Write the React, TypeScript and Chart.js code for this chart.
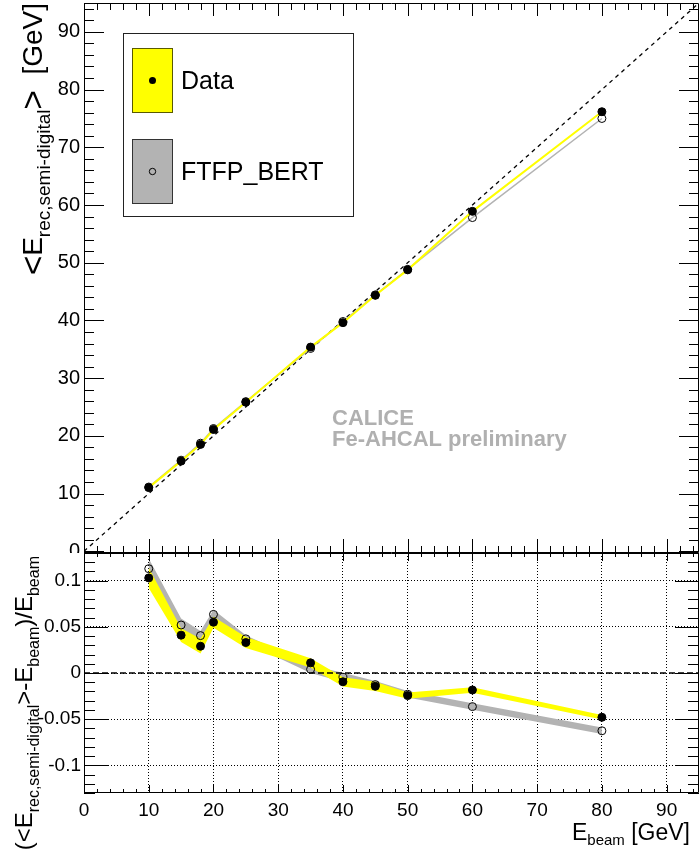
import React, { useEffect, useRef } from 'react';
import { Chart, registerables } from 'chart.js';

Chart.register(...registerables);

// ---------- data ----------
const beamEnergies = [10, 15, 18, 20, 25, 35, 40, 45, 50, 60, 80];
const dataRecEnergy = [11.03, 15.62, 18.52, 21.1, 25.83, 35.38, 39.61, 44.35, 48.76, 58.9, 76.16];
const mcRecEnergy = [11.13, 15.78, 18.73, 21.27, 25.93, 35.14, 39.81, 44.43, 48.85, 57.82, 74.99];
const dataDeviation = [0.103, 0.041, 0.029, 0.055, 0.033, 0.011, -0.0095, -0.0144, -0.0245, -0.0184, -0.048];
const mcDeviation = [0.113, 0.052, 0.0405, 0.0635, 0.037, 0.004, -0.0047, -0.0126, -0.023, -0.0364, -0.0626];
const dataBandHalf = [0.011, 0.0075, 0.008, 0.006, 0.006, 0.005, 0.005, 0.005, 0.0035, 0.003, 0.0025];
const mcBandHalf = [0.011, 0.007, 0.005, 0.005, 0.004, 0.004, 0.005, 0.004, 0.0035, 0.0035, 0.0035];

const xTickValues = [0, 10, 20, 30, 40, 50, 60, 70, 80, 90];
const xTickLabels = ['0', '10', '20', '30', '40', '50', '60', '70', '80', '90'];
const energyTickValues = [0, 10, 20, 30, 40, 50, 60, 70, 80, 90];
const energyTickLabels = ['0', '10', '20', '30', '40', '50', '60', '70', '80', '90'];
const deviationTickValues = [-0.1, -0.05, 0, 0.05, 0.1];
const deviationTickLabels = ['-0.1', '-0.05', '0', '0.05', '0.1'];

const identityLine = [0, 95];
const zeroLineX = [0, 95];
const legendLabels = ['Data', 'FTFP_BERT'];
const watermarkLines = ['CALICE', 'Fe-AHCAL preliminary'];

const FONT = '"Liberation Sans", Arial, Helvetica, sans-serif';
const YELLOW = '#ffff00';
const GREY = '#b3b3b3';

type Part = { t: string; size: number; dy: number };

function drawRich(ctx: CanvasRenderingContext2D, parts: Part[], x: number, y: number, rotate: boolean) {
  ctx.save();
  let total = 0;
  const widths = parts.map((p) => {
    ctx.font = `${p.size}px ${FONT}`;
    const w = ctx.measureText(p.t).width;
    total += w;
    return w;
  });
  ctx.translate(x, y);
  if (rotate) ctx.rotate(-Math.PI / 2);
  ctx.fillStyle = '#000';
  ctx.textBaseline = 'alphabetic';
  ctx.textAlign = 'left';
  let u = -total;
  parts.forEach((p, i) => {
    ctx.font = `${p.size}px ${FONT}`;
    ctx.fillText(p.t, u, p.dy);
    u += widths[i];
  });
  ctx.restore();
}

function stepValues(min: number, max: number, step: number) {
  const out: number[] = [];
  for (let k = Math.ceil(min / step - 1e-9); k * step <= max + 1e-9; k++) out.push(k * step);
  return out;
}

type FrameOpts = {
  xMinor: number; xMajor: number; yMinor: number; yMajor: number;
  xBotMaj: number; xBotMin: number; xTopMaj: number; xTopMin: number;
  yMaj: number; yMin: number;
  extra?: (chart: any, ctx: CanvasRenderingContext2D) => void;
};

function framePlugin(o: FrameOpts) {
  return {
    id: 'rootFrame',
    afterDraw(chart: any) {
      const ctx: CanvasRenderingContext2D = chart.ctx;
      const a = chart.chartArea;
      const xs = chart.scales.x;
      const ys = chart.scales.y;
      ctx.save();
      ctx.strokeStyle = '#000';
      ctx.lineWidth = 1;
      ctx.setLineDash([]);
      ctx.beginPath();
      ctx.rect(Math.round(a.left) + 0.5, Math.round(a.top) + 0.5, Math.round(a.right - a.left) - 1, Math.round(a.bottom - a.top) - 1);
      ctx.stroke();
      ctx.beginPath();
      for (const v of stepValues(xs.min, xs.max, o.xMinor)) {
        const major = Math.abs(v / o.xMajor - Math.round(v / o.xMajor)) < 1e-6;
        const px = Math.round(xs.getPixelForValue(v)) + 0.5;
        const lb = major ? o.xBotMaj : o.xBotMin;
        const lt = major ? o.xTopMaj : o.xTopMin;
        ctx.moveTo(px, a.bottom); ctx.lineTo(px, a.bottom - lb);
        ctx.moveTo(px, a.top); ctx.lineTo(px, a.top + lt);
      }
      for (const v of stepValues(ys.min, ys.max, o.yMinor)) {
        const major = Math.abs(v / o.yMajor - Math.round(v / o.yMajor)) < 1e-6;
        const py = Math.round(ys.getPixelForValue(v)) + 0.5;
        const l = major ? o.yMaj : o.yMin;
        ctx.moveTo(a.left, py); ctx.lineTo(a.left + l, py);
        ctx.moveTo(a.right, py); ctx.lineTo(a.right - l, py);
      }
      ctx.stroke();
      if (o.extra) o.extra(chart, ctx);
      ctx.restore();
    },
  };
}

function tickSetter(values: number[]) {
  return (s: any) => {
    s.ticks = values.map((v) => ({ value: v }));
  };
}

function topConfig(): any {
  const extra = (chart: any, ctx: CanvasRenderingContext2D) => {
    // legend
    ctx.fillStyle = '#fff';
    ctx.fillRect(123, 33, 231, 184);
    ctx.strokeStyle = '#222';
    ctx.lineWidth = 1;
    ctx.strokeRect(123.5, 33.5, 230, 183);
    ctx.fillStyle = YELLOW;
    ctx.fillRect(132, 48, 40, 64);
    ctx.strokeStyle = '#5a5a00';
    ctx.strokeRect(132.5, 48.5, 40, 64);
    ctx.fillStyle = GREY;
    ctx.fillRect(132, 139, 40, 64);
    ctx.strokeStyle = '#333';
    ctx.strokeRect(132.5, 139.5, 40, 64);
    ctx.fillStyle = '#000';
    ctx.beginPath();
    ctx.arc(152.5, 80.5, 3.5, 0, Math.PI * 2);
    ctx.fill();
    ctx.strokeStyle = '#000';
    ctx.beginPath();
    ctx.arc(152.5, 171.5, 3.2, 0, Math.PI * 2);
    ctx.stroke();
    ctx.font = `25px ${FONT}`;
    ctx.textAlign = 'left';
    ctx.textBaseline = 'alphabetic';
    ctx.fillText(legendLabels[0], 181, 89);
    ctx.fillText(legendLabels[1], 181, 180);
    // watermark
    ctx.fillStyle = '#b0b0b0';
    ctx.font = `bold 22px ${FONT}`;
    ctx.fillText(watermarkLines[0], 332, 425);
    ctx.fillText(watermarkLines[1], 332, 446);
    // y title
    drawRich(ctx, [
      { t: '<', size: 33, dy: 2 },
      { t: 'E', size: 28, dy: 0 },
      { t: 'rec,semi-digital', size: 19, dy: 8 },
      { t: '>', size: 33, dy: 2 },
      { t: '  [GeV]', size: 28, dy: 0 },
    ], 42, 3, true);
  };

  return {
    type: 'line',
    data: {
      datasets: [
        {
          data: beamEnergies.map((x, i) => ({ x, y: dataRecEnergy[i] })),
          borderColor: YELLOW, borderWidth: 2,
          pointBackgroundColor: '#000', pointBorderColor: '#000', pointBorderWidth: 1, pointRadius: 4,
          order: 0,
        },
        {
          data: beamEnergies.map((x, i) => ({ x, y: mcRecEnergy[i] })),
          borderColor: GREY, borderWidth: 1.5,
          pointBackgroundColor: 'rgba(255,255,255,0)', pointBorderColor: '#000', pointBorderWidth: 1, pointRadius: 4,
          order: 1,
        },
        {
          data: identityLine.map((v) => ({ x: v, y: v })),
          borderColor: '#000', borderWidth: 1.3, borderDash: [4, 4], pointRadius: 0,
          order: 2,
        },
      ],
    },
    options: {
      responsive: false, animation: false, devicePixelRatio: 1, events: [],
      layout: { autoPadding: false, padding: { top: 3, left: 0, right: 0, bottom: 0 } },
      plugins: { legend: { display: false }, tooltip: { enabled: false }, title: { display: false } },
      scales: {
        x: { type: 'linear', min: 0, max: 95, display: false },
        y: {
          type: 'linear', min: -0.3, max: 95,
          afterBuildTicks: tickSetter(energyTickValues),
          afterFit: (s: any) => { s.width = 84; s.paddingTop = 0; s.paddingBottom = 0; },
          ticks: {
            callback: (_v: any, i: number) => energyTickLabels[i],
            font: { family: FONT, size: 20 }, color: '#000', padding: 4, autoSkip: false,
          },
          grid: { display: false, drawTicks: false },
          border: { display: false },
        },
      },
    },
    plugins: [framePlugin({
      xMinor: 2, xMajor: 10, yMinor: 2, yMajor: 10,
      xBotMaj: 14, xBotMin: 7, xTopMaj: 13, xTopMin: 7, yMaj: 20, yMin: 10,
      extra,
    })],
  };
}

function bottomConfig(): any {
  const extra = (chart: any, ctx: CanvasRenderingContext2D) => {
    drawRich(ctx, [
      { t: '(<E', size: 24, dy: 0 },
      { t: 'rec,semi-digital', size: 16, dy: 7 },
      { t: '>-E', size: 24, dy: 0 },
      { t: 'beam', size: 16, dy: 7 },
      { t: ')/E', size: 24, dy: 0 },
      { t: 'beam', size: 16, dy: 7 },
    ], 32, 3, true);
    drawRich(ctx, [
      { t: 'E', size: 23, dy: 0 },
      { t: 'beam', size: 15, dy: 5 },
      { t: ' [GeV]', size: 23, dy: 0 },
    ], 690, 287, false);
  };
  const bandDataset = (vals: number[], half: number[], sign: number, color: string, fill: any, order: number) => ({
    data: beamEnergies.map((x, i) => ({ x, y: vals[i] + sign * half[i] })),
    borderWidth: 0, borderColor: 'rgba(0,0,0,0)', backgroundColor: color,
    pointRadius: 0, fill, order,
  });
  const gridOpts = { display: true, drawTicks: false, color: '#000', lineWidth: 1 };
  const borderOpts = { display: false, dash: [1, 2] };
  return {
    type: 'line',
    data: {
      datasets: [
        {
          data: beamEnergies.map((x, i) => ({ x, y: dataDeviation[i] })),
          showLine: false,
          pointBackgroundColor: '#000', pointBorderColor: '#000', pointBorderWidth: 1, pointRadius: 4,
          order: 0,
        },
        {
          data: beamEnergies.map((x, i) => ({ x, y: mcDeviation[i] })),
          showLine: false,
          pointBackgroundColor: 'rgba(255,255,255,0)', pointBorderColor: '#000', pointBorderWidth: 1, pointRadius: 4,
          order: 1,
        },
        {
          data: zeroLineX.map((x) => ({ x, y: 0 })),
          borderColor: '#000', borderWidth: 1.3, borderDash: [6, 3], pointRadius: 0,
          order: 2,
        },
        bandDataset(dataDeviation, dataBandHalf, 1, YELLOW, '+1', 3),
        bandDataset(dataDeviation, dataBandHalf, -1, YELLOW, false, 4),
        bandDataset(mcDeviation, mcBandHalf, 1, GREY, '+1', 5),
        bandDataset(mcDeviation, mcBandHalf, -1, GREY, false, 6),
      ],
    },
    options: {
      responsive: false, animation: false, devicePixelRatio: 1, events: [],
      layout: { autoPadding: false, padding: 0 },
      plugins: { legend: { display: false }, tooltip: { enabled: false }, title: { display: false } },
      scales: {
        x: {
          type: 'linear', min: 0, max: 95,
          afterBuildTicks: tickSetter(xTickValues),
          afterFit: (s: any) => { s.height = 57; s.paddingLeft = 0; s.paddingRight = 0; },
          ticks: {
            callback: (_v: any, i: number) => xTickLabels[i],
            font: { family: FONT, size: 19 }, color: '#000', padding: 6, autoSkip: false, maxRotation: 0,
          },
          grid: gridOpts,
          border: borderOpts,
        },
        y: {
          type: 'linear', min: -0.13, max: 0.13,
          afterBuildTicks: tickSetter(deviationTickValues),
          afterFit: (s: any) => { s.width = 84; s.paddingTop = 0; s.paddingBottom = 0; },
          ticks: {
            callback: (_v: any, i: number) => deviationTickLabels[i],
            font: { family: FONT, size: 19 }, color: '#000', padding: 3, autoSkip: false,
          },
          grid: gridOpts,
          border: borderOpts,
        },
      },
    },
    plugins: [framePlugin({
      xMinor: 2, xMajor: 10, yMinor: 0.01, yMajor: 0.05,
      xBotMaj: 8, xBotMin: 4, xTopMaj: 8, xTopMin: 4, yMaj: 24, yMin: 11,
      extra,
    })],
  };
}

export default function App() {
  const topRef = useRef<HTMLCanvasElement>(null);
  const botRef = useRef<HTMLCanvasElement>(null);
  useEffect(() => {
    const top = new Chart(topRef.current as HTMLCanvasElement, topConfig());
    const bot = new Chart(botRef.current as HTMLCanvasElement, bottomConfig());
    return () => {
      top.destroy();
      bot.destroy();
    };
  }, []);
  return (
    <div style={{ position: 'fixed', left: 0, top: 0, width: 699, height: 850, background: '#fff', overflow: 'hidden' }}>
      <canvas ref={topRef} width={699} height={553} style={{ position: 'absolute', left: 0, top: 0, width: 699, height: 553 }} />
      <canvas ref={botRef} width={699} height={297} style={{ position: 'absolute', left: 0, top: 553, width: 699, height: 297 }} />
    </div>
  );
}
